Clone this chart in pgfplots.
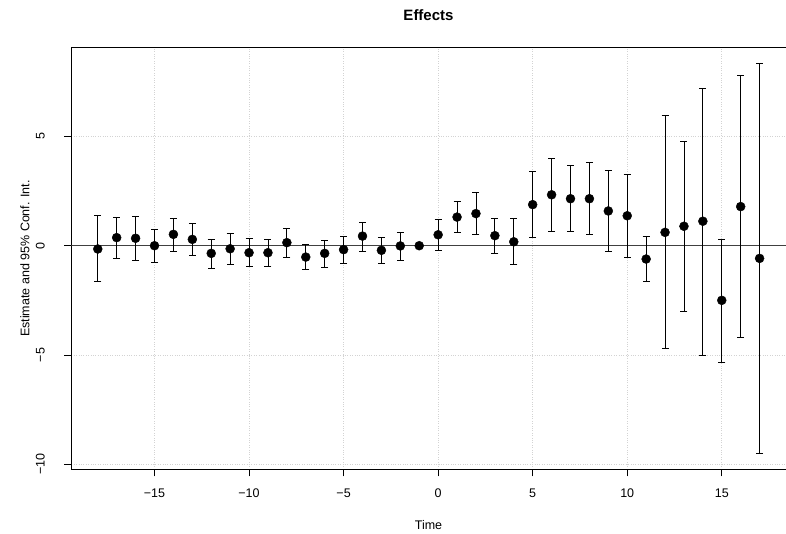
\documentclass[border=0pt]{standalone}
\usepackage{fontspec}
\setmainfont{Liberation Sans}
\usepackage{pgfplots}
\pgfplotsset{compat=1.18}
\usepackage{pgfplotstable}
\definecolor{rgrid}{HTML}{D3D3D3}

% estimate with lower / upper 95% bounds
\pgfplotstableread{
t   y      lo     hi
-18 -0.15  -1.65  1.37
-17  0.37  -0.59  1.31
-16  0.34  -0.65  1.33
-15  0.00  -0.75  0.73
-14  0.52  -0.24  1.27
-13  0.29  -0.46  1.01
-12 -0.35  -1.02  0.31
-11 -0.14  -0.84  0.55
-10 -0.32  -0.96  0.32
-9  -0.32  -0.94  0.29
-8   0.14  -0.53  0.79
-7  -0.52  -1.10  0.06
-6  -0.35  -0.97  0.25
-5  -0.18  -0.79  0.41
-4   0.44  -0.24  1.08
-3  -0.21  -0.82  0.38
-2  -0.01  -0.65  0.63
-1   0.00   0.00  0.00
0    0.50  -0.21  1.21
1    1.31   0.63  2.01
2    1.47   0.52  2.44
3    0.46  -0.35  1.24
4    0.18  -0.85  1.24
5    1.88   0.38  3.40
6    2.33   0.64  4.01
7    2.15   0.64  3.68
8    2.15   0.52  3.80
9    1.59  -0.27  3.43
10   1.37  -0.52  3.25
11  -0.61  -1.62  0.41
12   0.61  -4.72  5.94
13   0.89  -3.02  4.78
14   1.12  -5.00  7.22
15  -2.50  -5.32  0.29
16   1.79  -4.21  7.80
17  -0.58  -9.52  8.33
}\effects

\begin{document}
\begin{tikzpicture}[x=1pt,y=1pt]
\useasboundingbox (0,0) rectangle (786,534);
\begin{axis}[
    at={(71.3pt,64.7pt)}, anchor=south west,
    scale only axis, width=715.7pt, height=421.6pt,
    xmin=-19.4, xmax=18.45, ymin=-10.23, ymax=9.06,
    xtick={-15,-10,-5,0,5,10,15},
    xticklabels={−15,−10,−5,0,5,10,15},
    ytick={-10,-5,0,5},
    yticklabels={−10,−5,0,5},
    tick pos=left, tick align=outside,
    major tick length=7pt,
    every tick/.style={black, line width=0.8pt},
    axis line style={black, line width=0.8pt},
    tick label style={font=\fontsize{12.5}{14}\selectfont},
    yticklabel style={rotate=90, anchor=south},
    xticklabel shift=9pt,
    yticklabel shift=16pt,
    grid=major,
    major grid style={rgrid, dotted, line width=0.8pt},
]
\addplot[black!75, line width=1pt, forget plot]
    coordinates {(-19.4,0) (18.45,0)};
\addplot[only marks, mark=*, mark size=4.5pt, black,
    error bars/.cd, y dir=both, y explicit, error mark=|,
    error bar style={line width=0.8pt, black},
    error mark options={line width=0.8pt, mark size=3.5pt, black}]
    table[x=t, y=y,
          y error plus expr=\thisrow{hi}-\thisrow{y},
          y error minus expr=\thisrow{y}-\thisrow{lo}] {\effects};
\end{axis}
\node[font=\bfseries\fontsize{15}{17}\selectfont] at (428.5,519.3) {Effects};
\node[font=\fontsize{12.5}{14}\selectfont] at (428.5,9) {Time};
\node[font=\fontsize{12.5}{14}\selectfont, rotate=90] at (25,275.5) {Estimate and 95\% Conf. Int.};
\end{tikzpicture}
\end{document}
